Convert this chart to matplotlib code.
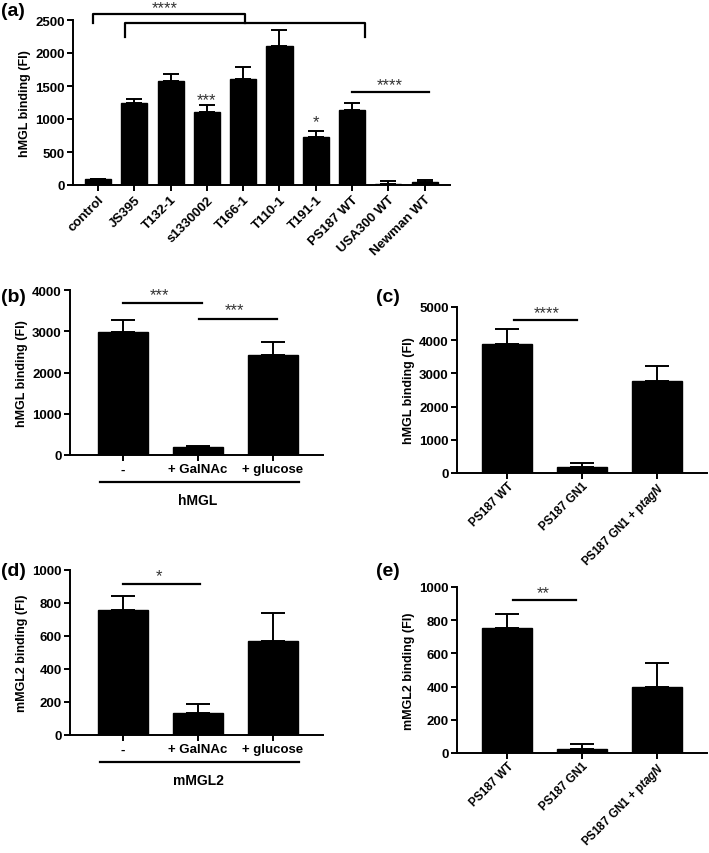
import matplotlib
matplotlib.use("Agg")
import matplotlib.pyplot as plt
import numpy as np

plt.rcParams["font.family"] = ["Liberation Sans", "DejaVu Sans"]
plt.rcParams["font.weight"] = "bold"
plt.rcParams["mathtext.fontset"] = "custom"
plt.rcParams["mathtext.it"] = "Liberation Sans:italic:bold"
plt.rcParams["mathtext.rm"] = "Liberation Sans:bold"

# Panel (a): strains vs hMGL binding
strains = ["control", "JS395", "T132-1", "s1330002", "T166-1", "T110-1",
           "T191-1", "PS187 WT", "USA300 WT", "Newman WT"]
strain_means = [85, 1250, 1580, 1100, 1600, 2100, 720, 1140, 20, 50]
strain_err = [12, 55, 100, 110, 190, 250, 100, 100, 40, 30]

# Panels (b) and (d): sugar inhibition
sugars = ["-", "+ GalNAc", "+ glucose"]
hmgl_sugar_means = [2980, 200, 2420]
hmgl_sugar_err = [300, 30, 310]
mmgl2_sugar_means = [755, 135, 570]
mmgl2_sugar_err = [85, 50, 170]

# Panels (c) and (e): mutant and complemented strain
mutants = ["PS187 WT", "PS187 GN1", "PS187 GN1 + p$\\it{tagN}$"]
hmgl_mut_means = [3900, 170, 2760]
hmgl_mut_err = [430, 130, 470]
mmgl2_mut_means = [755, 25, 395]
mmgl2_mut_err = [85, 30, 150]

W, H = 709, 854
TICK_FS = 9.5
STAR_FS = 12
fig = plt.figure(figsize=(W / 100, H / 100), dpi=100)


def make_ax(left, right, top, bottom):
    return fig.add_axes([left / W, 1 - bottom / H, (right - left) / W, (bottom - top) / H])


def style(ax, ylim, yticks, ylabel):
    for s in ["top", "right"]:
        ax.spines[s].set_visible(False)
    for s in ["left", "bottom"]:
        ax.spines[s].set_linewidth(1.4)
    ax.set_ylim(*ylim)
    ax.set_yticks(yticks)
    ax.tick_params(axis="both", width=1.4, length=4, labelsize=TICK_FS, pad=2)
    ax.set_ylabel(ylabel, fontsize=9, fontweight="bold", labelpad=3)


def bars(ax, means, err, width, capsize):
    x = np.arange(len(means))
    ax.bar(x, means, width=width, color="black", edgecolor="black", zorder=2)
    ax.errorbar(x, means, yerr=[np.zeros(len(err)), err], fmt="none",
                ecolor="black", elinewidth=1.4, capsize=capsize, capthick=1.4, zorder=1)
    return x


def stars(ax, x, y, label):
    ax.text(x, y, label, ha="center", va="center", fontsize=STAR_FS,
            color="#333333", fontweight="normal", clip_on=False)


def sig(ax, x0, x1, y, label, tx, ty):
    ax.plot([x0, x1], [y, y], color="black", lw=1.6, clip_on=False)
    stars(ax, tx, ty, label)


# ---------------- (a) ----------------
ax_a = make_ax(73, 450, 21, 186)
x = bars(ax_a, strain_means, strain_err, 0.72, 5.5)
style(ax_a, (0, 2500), range(0, 2501, 500), "hMGL binding (FI)")
ax_a.set_xlim(-0.69, 9.7)
ax_a.set_xticks(x)
ax_a.set_xticklabels(strains, rotation=45, ha="right", rotation_mode="anchor", fontsize=TICK_FS)
# brackets
ax_a.plot([-0.15, -0.15, 4.05, 4.05], [2455, 2591, 2591, 2455], color="black", lw=1.6, clip_on=False)
ax_a.plot([0.74, 0.74, 7.36, 7.36], [2242, 2455, 2455, 2242], color="black", lw=1.6, clip_on=False)
stars(ax_a, 1.85, 2690, "****")
sig(ax_a, 7.0, 9.12, 1410, "****", 8.04, 1520)
stars(ax_a, 3, 1300, "***")
stars(ax_a, 6, 965, "*")


def sugar_panel(ax, means, err, ylim, yticks, ylabel, group):
    x = bars(ax, means, err, 0.67, 8.5)
    style(ax, ylim, yticks, ylabel)
    ax.set_xlim(-0.71, 2.67)
    ax.set_xticks(x)
    ax.set_xticklabels(sugars, fontsize=TICK_FS)
    trans = ax.get_xaxis_transform()
    ax.plot([-0.31, 2.35], [-0.165, -0.165], color="black", lw=1.6, transform=trans, clip_on=False)
    ax.text(1.0, -0.27, group, ha="center", va="center", fontsize=10, fontweight="bold", transform=trans)


def mutant_panel(ax, means, err, ylim, yticks, ylabel):
    x = bars(ax, means, err, 0.67, 8.5)
    style(ax, ylim, yticks, ylabel)
    ax.set_xlim(-0.67, 2.67)
    ax.set_xticks(x)
    ax.tick_params(axis="x", pad=1)
    ax.set_xticklabels(mutants, rotation=45, ha="right", rotation_mode="anchor", fontsize=8.4)


# ---------------- (b) ----------------
ax_b = make_ax(70, 323, 291, 456)
sugar_panel(ax_b, hmgl_sugar_means, hmgl_sugar_err, (0, 4000), range(0, 4001, 1000),
            "hMGL binding (FI)", "hMGL")
sig(ax_b, 0, 1.05, 3685, "***", 0.48, 3900)
sig(ax_b, 1.01, 2.05, 3297, "***", 1.49, 3530)

# ---------------- (c) ----------------
ax_c = make_ax(457, 707, 308, 474)
mutant_panel(ax_c, hmgl_mut_means, hmgl_mut_err, (0, 5000), range(0, 5001, 1000), "hMGL binding (FI)")
sig(ax_c, 0.09, 0.93, 4608, "****", 0.53, 4830)

# ---------------- (d) ----------------
ax_d = make_ax(70, 323, 571, 736)
sugar_panel(ax_d, mmgl2_sugar_means, mmgl2_sugar_err, (0, 1000), range(0, 1001, 200),
            "mMGL2 binding (FI)", "mMGL2")
sig(ax_d, 0, 1.03, 915, "*", 0.48, 965)

# ---------------- (e) ----------------
ax_e = make_ax(457, 707, 588, 754)
mutant_panel(ax_e, mmgl2_mut_means, mmgl2_mut_err, (0, 1000), range(0, 1001, 200), "mMGL2 binding (FI)")
sig(ax_e, 0.08, 0.92, 921, "**", 0.48, 965)

# panel letters
for lab, px, py in [("(a)", 1, 12), ("(b)", 1, 298), ("(c)", 376, 298), ("(d)", 1, 572), ("(e)", 376, 572)]:
    fig.text(px / W, 1 - py / H, lab, fontsize=14, fontweight="bold", ha="left", va="center")

fig.savefig("out.png", dpi=100)
